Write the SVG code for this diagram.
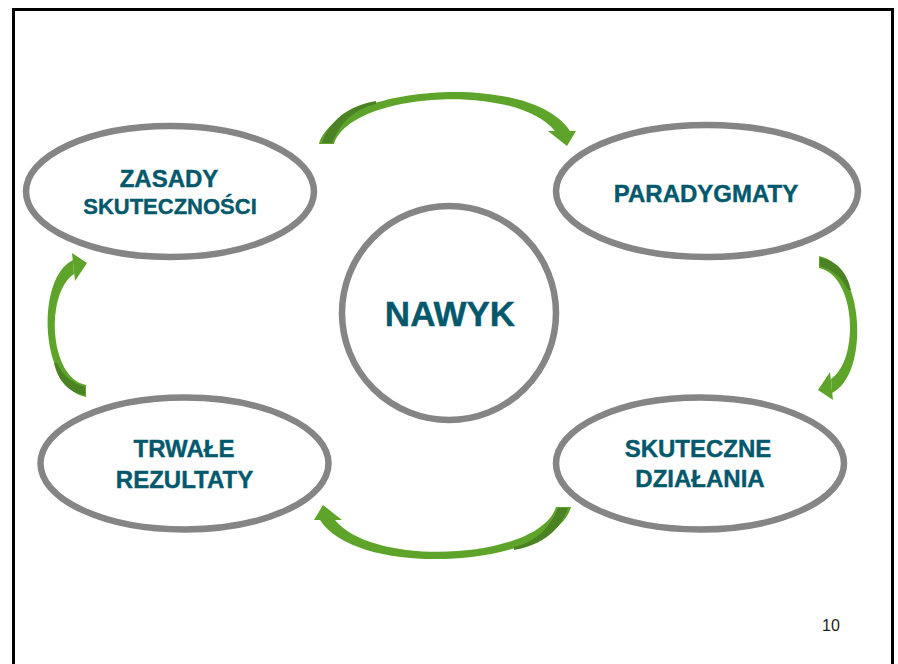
<svg xmlns="http://www.w3.org/2000/svg" width="898" height="664" viewBox="0 0 898 664">
  <style>
    .node { fill: #ffffff; stroke: #858585; stroke-width: 6.5; }
    .lbl { font-family: "Liberation Sans", Arial, sans-serif; font-weight: bold; fill: #03586C; stroke: #03586C; stroke-width: 0.4; text-anchor: middle; }
    .arr { fill: #5FA42A; }
    .arrd { fill: #4A8224; }
    .pg { font-family: "Liberation Sans", Arial, sans-serif; font-size: 16px; fill: #222222; text-anchor: middle; }
  </style>
  <defs>
    <g id="arrowH">
      <path class="arr" d="M 319,144 C 335,85 530,70 570,131 L 555,131 C 515,82 350,92 334,144 Z"/>
      <path class="arr" d="M 548,131 L 576,131 L 567,146 Z"/>
      <path class="arrd" d="M 322,143 C 330,120 348,106 376,101 L 376,104 C 352,110 340,124 332,143 Z"/>
    </g>
    <g id="arrowV">
      <path class="arr" d="M 819,256 C 865,265 870,375 832,393 L 831,379 C 860,360 856,275 819,268 Z"/>
      <path class="arr" d="M 830,372 L 833,400 L 818,390 Z"/>
      <path class="arrd" d="M 820,258 C 836,260 847,272 851,290 L 848,290 C 842,277 833,270 820,266 Z"/>
    </g>
  </defs>
  <rect x="13.5" y="9.5" width="879" height="700" fill="#ffffff" stroke="#000000" stroke-width="3"/>

  <g id="connectors">
    <use href="#arrowH"/>
    <use href="#arrowV"/>
    <use href="#arrowH" transform="rotate(180 445 325.5)"/>
    <use href="#arrowV" transform="rotate(180 452.5 326.5)"/>
  </g>

  <g id="node-zasady">
    <ellipse class="node" cx="170" cy="191.5" rx="144" ry="65.5"/>
    <text class="lbl" x="169" y="187" font-size="24">ZASADY</text>
    <text class="lbl" x="170" y="214" font-size="22">SKUTECZNOŚCI</text>
  </g>
  <g id="node-paradygmaty">
    <ellipse class="node" cx="707" cy="191" rx="151" ry="66"/>
    <text class="lbl" x="706" y="202" font-size="24">PARADYGMATY</text>
  </g>
  <g id="node-nawyk">
    <circle class="node" cx="449" cy="313" r="107"/>
    <text class="lbl" x="450" y="326" font-size="35">NAWYK</text>
  </g>
  <g id="node-trwale">
    <ellipse class="node" cx="184.5" cy="463.5" rx="144" ry="66"/>
    <text class="lbl" x="184" y="457" font-size="24">TRWAŁE</text>
    <text class="lbl" x="184.5" y="488" font-size="24">REZULTATY</text>
  </g>
  <g id="node-skuteczne">
    <ellipse class="node" cx="700" cy="463.5" rx="144" ry="66"/>
    <text class="lbl" x="698" y="457" font-size="24">SKUTECZNE</text>
    <text class="lbl" x="700" y="487" font-size="24">DZIAŁANIA</text>
  </g>
  <text class="pg" x="831" y="631">10</text>
</svg>
